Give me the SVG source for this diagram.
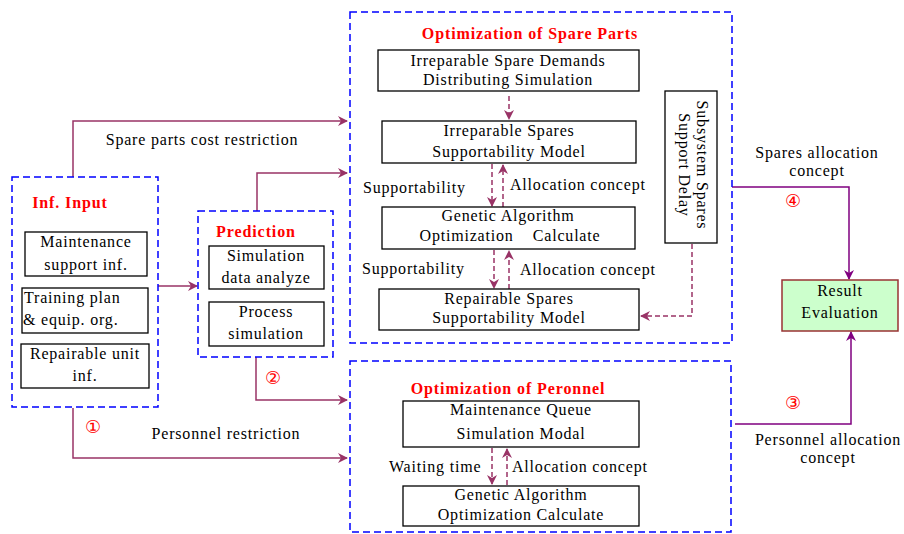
<svg xmlns="http://www.w3.org/2000/svg" width="904" height="534" viewBox="0 0 904 534">
<defs>
<style>
.grp{fill:none;stroke:#0000ff;stroke-width:1.5;stroke-dasharray:7,4}
.box{fill:#ffffff;stroke:#000;stroke-width:1.3}
.t{font-family:"Liberation Serif","Times New Roman",serif;font-size:16px;letter-spacing:0.8px;fill:#000;text-anchor:middle}
.l{font-family:"Liberation Serif","Times New Roman",serif;font-size:16px;letter-spacing:0.8px;fill:#000}
.ttl{font-family:"Liberation Serif","Times New Roman",serif;font-size:16px;letter-spacing:0.9px;font-weight:bold;fill:#ff0000;text-anchor:middle}
.num{font-family:"DejaVu Sans","Noto Sans CJK SC",sans-serif;font-size:18px;fill:#ff0000;text-anchor:middle}
.c1{fill:none;stroke:#993366;stroke-width:1.5}
.c2{fill:none;stroke:#800080;stroke-width:1.5}
.cd{fill:none;stroke:#993366;stroke-width:1.5;stroke-dasharray:5,3}
</style>
<marker id="a1" markerWidth="10" markerHeight="10" refX="9" refY="5" orient="auto" markerUnits="userSpaceOnUse"><path d="M0,0 L10,5 L0,10 L3,5 Z" fill="#993366"/></marker>
<marker id="a2" markerWidth="10" markerHeight="10" refX="9" refY="5" orient="auto" markerUnits="userSpaceOnUse"><path d="M0,0 L10,5 L0,10 L3,5 Z" fill="#800080"/></marker>
</defs>
<rect width="904" height="534" fill="#ffffff"/>

<g id="connectors">
<path class="c1" d="M73,177 V121 H347" marker-end="url(#a1)"/>
<path class="c1" d="M73,408 V458 H347" marker-end="url(#a1)"/>
<path class="c1" d="M158,286 H197" marker-end="url(#a1)"/>
<path class="c1" d="M257,211 V173 H347" marker-end="url(#a1)"/>
<path class="c1" d="M256,357 V400 H347" marker-end="url(#a1)"/>
<path class="c2" d="M732,187 H849 V279" marker-end="url(#a2)"/>
<path class="c2" d="M735,424 H851 V332" marker-end="url(#a2)"/>
<path class="cd" d="M509,96 V119" marker-end="url(#a1)"/>
<path class="cd" d="M492,164 V206" marker-end="url(#a1)"/>
<path class="cd" d="M503,207 V165" marker-end="url(#a1)"/>
<path class="cd" d="M494,250 V288" marker-end="url(#a1)"/>
<path class="cd" d="M509,289 V251" marker-end="url(#a1)"/>
<path class="cd" d="M692,244 V316 H641" marker-end="url(#a1)"/>
<path class="cd" d="M492,448 V484" marker-end="url(#a1)"/>
<path class="cd" d="M507,485 V449" marker-end="url(#a1)"/>
<text class="t" x="202" y="145">Spare parts cost restriction</text>
<text class="t" x="226" y="439">Personnel restriction</text>
<text class="num" x="93" y="433">①</text>
<text class="num" x="273" y="384">②</text>
<text class="num" x="793" y="409">③</text>
<text class="num" x="793" y="207">④</text>
<text class="t" x="817" y="158">Spares allocation</text>
<text class="t" x="817" y="176">concept</text>
<text class="t" x="828" y="445">Personnel allocation</text>
<text class="t" x="828" y="463">concept</text>
<text class="l" x="363" y="193">Supportability</text>
<text class="l" x="510" y="190">Allocation concept</text>
<text class="l" x="362" y="274">Supportability</text>
<text class="l" x="520" y="275">Allocation concept</text>
<text class="l" x="389" y="472">Waiting time</text>
<text class="l" x="512" y="472">Allocation concept</text>
</g>

<g id="inf-input">
<rect class="grp" x="12" y="177" width="146" height="230"/>
<text class="ttl" x="70" y="208">Inf. Input</text>
</g>
<g id="maintenance-support">
<rect class="box" x="25" y="232" width="122" height="44"/>
<text class="t" x="86" y="247">Maintenance</text>
<text class="t" x="86" y="270">support inf.</text>
</g>
<g id="training-plan">
<rect class="box" x="22" y="288" width="126" height="45"/>
<text class="l" x="24" y="303">Training plan</text>
<text class="l" x="23" y="325">&amp; equip. org.</text>
</g>
<g id="repairable-unit">
<rect class="box" x="21" y="344" width="128" height="44"/>
<text class="t" x="85" y="359">Repairable unit</text>
<text class="t" x="85" y="381">inf.</text>
</g>

<g id="prediction">
<rect class="grp" x="198" y="211" width="135" height="146"/>
<text class="ttl" x="256" y="237">Prediction</text>
</g>
<g id="simulation-data">
<rect class="box" x="209" y="246" width="115" height="43"/>
<text class="t" x="266" y="261">Simulation</text>
<text class="t" x="266" y="283">data analyze</text>
</g>
<g id="process-simulation">
<rect class="box" x="209" y="302" width="115" height="44"/>
<text class="t" x="266" y="317">Process</text>
<text class="t" x="266" y="339">simulation</text>
</g>

<g id="spare-parts">
<rect class="grp" x="350" y="12" width="382" height="331"/>
<text class="ttl" x="530" y="39">Optimization of Spare Parts</text>
</g>
<g id="irreparable-demands">
<rect class="box" x="378" y="50" width="261" height="41"/>
<text class="t" x="508" y="66">Irreparable Spare Demands</text>
<text class="t" x="508" y="85">Distributing Simulation</text>
</g>
<g id="irreparable-model">
<rect class="box" x="382" y="121" width="254" height="42"/>
<text class="t" x="509" y="136">Irreparable Spares</text>
<text class="t" x="509" y="157">Supportability Model</text>
</g>
<g id="ga-spares">
<rect class="box" x="382" y="207" width="253" height="42"/>
<text class="t" x="508" y="221">Genetic Algorithm</text>
<text class="t" x="510" y="241" xml:space="preserve">Optimization    Calculate</text>
</g>
<g id="repairable-model">
<rect class="box" x="379" y="289" width="260" height="41"/>
<text class="t" x="509" y="304">Repairable Spares</text>
<text class="t" x="509" y="323">Supportability Model</text>
</g>
<g id="subsystem-delay">
<rect class="box" x="665" y="91" width="52" height="152"/>
<text class="t" transform="translate(697,165) rotate(90)">Subsystem Spares</text>
<text class="t" transform="translate(679,165) rotate(90)">Support Delay</text>
</g>

<g id="personnel">
<rect class="grp" x="350" y="361" width="381" height="171"/>
<text class="ttl" x="508" y="394">Optimization of Peronnel</text>
</g>
<g id="queue-sim">
<rect class="box" x="403" y="401" width="236" height="46"/>
<text class="t" x="521" y="415">Maintenance Queue</text>
<text class="t" x="521" y="439">Simulation Modal</text>
</g>
<g id="ga-personnel">
<rect class="box" x="403" y="486" width="236" height="40"/>
<text class="t" x="521" y="500">Genetic Algorithm</text>
<text class="t" x="521" y="520">Optimization Calculate</text>
</g>

<g id="result-evaluation">
<rect x="782" y="280" width="116" height="51" fill="#ccffcc" stroke="#993333" stroke-width="1.5"/>
<text class="t" x="840" y="296">Result</text>
<text class="t" x="840" y="318">Evaluation</text>
</g>
</svg>
